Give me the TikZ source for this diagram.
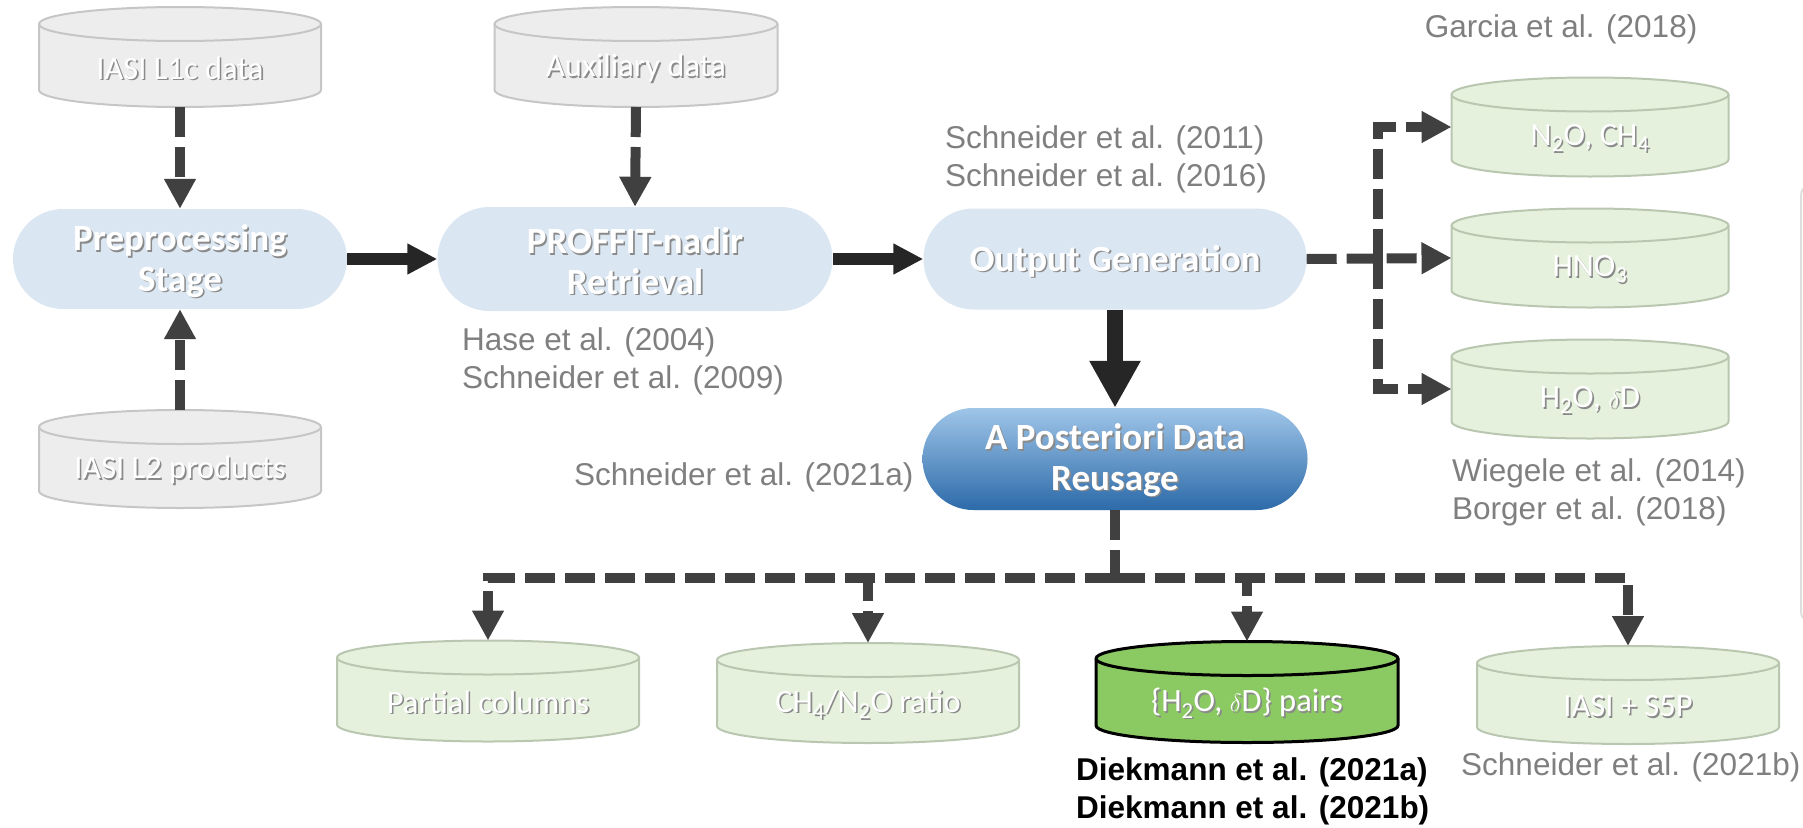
\documentclass[tikz,border=0pt]{standalone}
\usepackage{fontspec}
\setmainfont{Liberation Sans}
\newfontfamily\calibri{Carlito}
\usetikzlibrary{arrows.meta,calc}
\definecolor{cylgray}{HTML}{EDEDED}
\definecolor{cylgrayline}{HTML}{C6C6C6}
\definecolor{cylgreen}{HTML}{E5F1DC}
\definecolor{cylgreenline}{HTML}{BAC7B0}
\definecolor{pairgreen}{HTML}{8BC963}
\definecolor{boxblue}{HTML}{DAE6F2}
\definecolor{gradtop}{HTML}{9FC5E8}
\definecolor{gradbot}{HTML}{2C6AA9}
\definecolor{citegray}{HTML}{7F7F7F}
\definecolor{arrowgray}{HTML}{404040}
\definecolor{arrowdark}{HTML}{262626}
\definecolor{shadowc}{HTML}{8A8A8A}
\definecolor{edgegray}{HTML}{DEDEDE}
\newcommand\shd[1]{\leavevmode\rlap{\hspace{1.6pt}\raisebox{-1.6pt}{\color{shadowc}#1}}#1}
\newcommand\cyl[7]{%
  \node[minimum width=#4, minimum height=#5, inner sep=0, outer sep=0] (#1) at (#2,-#3) {};
  \path[#6] ([yshift=-17pt]#1.north west) -- ([yshift=17pt]#1.south west)
    arc[start angle=180,end angle=360,x radius={#4/2},y radius=17]
    -- ([yshift=-17pt]#1.north east)
    arc[start angle=0,end angle=180,x radius={#4/2},y radius=17] -- cycle;
  \draw[#6,fill=none] ([yshift=-17pt]#1.north west)
    arc[start angle=180,end angle=360,x radius={#4/2},y radius=17];
  \node[cyltext] (#1-t) at ([yshift=-12pt]#1.center) {#7};}
\begin{document}
\begin{tikzpicture}[x=1pt,y=1pt,
  cyltext/.style={font=\calibri\fontsize{32.5}{36}\selectfont, text=white, inner sep=0},
  graycyl/.style={fill=cylgray, draw=cylgrayline, line width=2},
  greencyl/.style={fill=cylgreen, draw=cylgreenline, line width=2},
  paircyl/.style={fill=pairgreen, draw=black, line width=3},
  stad/.style={fill=boxblue, inner sep=0},
  stadtext/.style={align=center, text=white, inner sep=0,
    font=\calibri\bfseries\fontsize{37}{40.5}\selectfont},
  cite/.style={font=\fontsize{31.5}{38}\selectfont, text=citegray, align=left, inner sep=0},
  boldcite/.style={font=\bfseries\fontsize{31.5}{38}\selectfont, text=black, align=left, inner sep=0},
  dsh/.style={draw=arrowgray, line width=10, dash pattern=on 30pt off 10pt, -{Triangle[length=30pt,width=30pt]}},
  dshline/.style={draw=arrowgray, line width=10, dash pattern=on 30pt off 10pt},
  sol/.style={draw=arrowdark, line width=12, -{Triangle[length=30pt,width=29pt]}},
  big/.style={draw=arrowdark, line width=16, -{Triangle[length=47pt,width=48pt]}}]
\useasboundingbox (0,0) rectangle (1803,-827);

% faint edge of an outer frame at the right border
\draw[draw=edgegray, line width=2, rounded corners=10] (1815,-185) -- (1801,-185) -- (1801,-622) -- (1815,-622);

% input cylinders
\cyl{l1c}{180}{57}{282}{100}{graycyl}{\shd{IASI L1c data}}
\cyl{aux}{636}{57}{283}{100}{graycyl}{\shd{Auxiliary data}}
\cyl{l2}{180}{459}{282}{98}{graycyl}{\shd{IASI L2 products}}

% processing stages
\node[stad, rounded corners=50, minimum width=334, minimum height=100] (pre) at (180,-259) {};
\node[stadtext] (pre-t) at ([yshift=-3pt]pre.center) {\shd{Preprocessing}\\\shd{Stage}};
\node[stad, rounded corners=52, minimum width=395, minimum height=104] (prof) at (635,-259) {};
\node[stadtext] (prof-t) at ([yshift=-3pt]prof.center) {\shd{PROFFIT-nadir}\\\shd{Retrieval}};
\node[stad, rounded corners=50, minimum width=383, minimum height=101] (out) at (1115,-259) {};
\node[stadtext] (out-t) at ([yshift=-3pt]out.center) {\shd{Output Generation}};
\node[stad, rounded corners=51, top color=gradtop, bottom color=gradbot, minimum width=385, minimum height=102] (apost) at (1115,-459) {};
\node[stadtext] (apost-t) at ([yshift=-2pt]apost.center) {\shd{A Posteriori Data}\\\shd{Reusage}};

% right column products
\cyl{n2o}{1590}{127}{277}{99}{greencyl}{\shd{N\textsubscript{2}O, CH\textsubscript{4}}}
\cyl{hno}{1590}{258}{277}{99}{greencyl}{\shd{HNO\textsubscript{3}}}
\cyl{h2o}{1590}{389}{277}{99}{greencyl}{\shd{H\textsubscript{2}O, $\delta$D}}

% bottom products
\cyl{part}{488}{691}{302}{101}{greencyl}{\shd{Partial columns}}
\cyl{ratio}{868}{693}{302}{100}{greencyl}{\shd{CH\textsubscript{4}/N\textsubscript{2}O ratio}}
\cyl{pairs}{1247}{692}{302}{101}{paircyl}{\shd{\{H\textsubscript{2}O, $\delta$D\} pairs}}
\cyl{s5p}{1628}{695}{302}{98}{greencyl}{\shd{IASI + S5P}}

% citations
\node[cite, anchor=center] (garcia) at (1561,-29) {Garcia et al. (2018)};
\node[cite, anchor=west] (sch1116) at (945,-159) {Schneider et al. (2011)\\Schneider et al. (2016)};
\node[cite, anchor=west] (hase) at (462,-361) {Hase et al. (2004)\\Schneider et al. (2009)};
\node[cite, anchor=west] (sch21a) at (574,-477) {Schneider et al. (2021a)};
\node[cite, anchor=west] (wieg) at (1452,-492) {Wiegele et al. (2014)\\Borger et al. (2018)};
\node[boldcite, anchor=west] (diek) at (1076,-791) {Diekmann et al. (2021a)\\Diekmann et al. (2021b)};
\node[cite, anchor=west] (sch21b) at (1461,-767) {Schneider et al. (2021b)};

% connectors
\draw[dsh] (l1c.south) -- (pre.north);
\draw[dsh] (l2.north) -- (pre.south);
\draw[dsh] (aux.south) -- (prof.north);
\draw[sol] (pre.east) -- (prof.west);
\draw[sol] (prof.east) -- (out.west);
\draw[big] (out.south) -- (apost.north);

\coordinate (jr) at (1378,-259);
\draw[dsh] (out.east) -- (hno.west);
\draw[dsh] (jr) |- (n2o.west);
\draw[dsh] (jr) |- (h2o.west);

\coordinate (jb) at (1115,-578);
\draw[dshline] (apost.south) -- (jb);
\draw[dsh] (jb) -| (part.north);
\draw[dsh] (jb) -| (ratio.north);
\draw[dsh] (jb) -| (pairs.north);
\draw[dsh] (jb) -| (s5p.north);
\end{tikzpicture}
\end{document}
